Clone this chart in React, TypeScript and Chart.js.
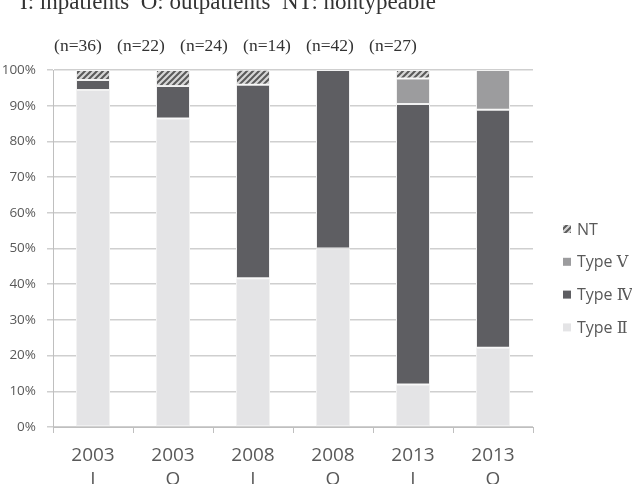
import { useEffect, useRef } from 'react';
import { Chart, registerables } from 'chart.js';

Chart.register(...registerables);

const years = ['2003', '2003', '2008', '2008', '2013', '2013'];
const groups = ['I', 'O', 'I', 'O', 'I', 'O'];
const sampleSizes = [36, 22, 24, 14, 42, 27];

const typeII = [94.4, 86.4, 41.7, 50.0, 11.9, 22.2];
const typeIV = [2.8, 9.1, 54.2, 50.0, 78.6, 66.7];
const typeV = [0, 0, 0, 0, 7.1, 11.1];
const typeNT = [2.8, 4.5, 4.2, 0, 2.4, 0];

const seriesNames = ['Type Ⅱ', 'Type Ⅳ', 'Type Ⅴ', 'NT'];
const titleText = 'I: inpatients  O: outpatients  NT: nontypeable';

const SANS = '"Open Sans", "Noto Sans CJK JP", sans-serif';
const LEGEND_FONT = '"Open Sans", "DejaVu Serif", "Noto Sans CJK JP", sans-serif';
const SERIF = '"Liberation Serif", "DejaVu Serif", serif';

function makeHatch(ctx: CanvasRenderingContext2D): CanvasPattern | string {
  const c = document.createElement('canvas');
  c.width = 6;
  c.height = 6;
  const p = c.getContext('2d');
  if (!p) return '#888';
  p.fillStyle = '#d6d6d6';
  p.fillRect(0, 0, 6, 6);
  p.strokeStyle = '#5a5a5a';
  p.lineWidth = 2;
  p.beginPath();
  p.moveTo(-1, 7);
  p.lineTo(7, -1);
  p.moveTo(-4, 4);
  p.lineTo(4, -4);
  p.moveTo(2, 10);
  p.lineTo(10, 2);
  p.stroke();
  return ctx.createPattern(c, 'repeat') || '#888';
}

export default function App() {
  const ref = useRef<HTMLCanvasElement>(null);

  useEffect(() => {
    const canvas = ref.current;
    if (!canvas) return;
    const ctx = canvas.getContext('2d');
    if (!ctx) return;
    const hatch = makeHatch(ctx);

    const annotations = {
      id: 'annotations',
      afterDraw(chart: any) {
        const c = chart.ctx;
        const area = chart.chartArea;
        c.save();
        // title (cut at top, as in reference)
        c.fillStyle = '#333333';
        c.font = `23px ${SERIF}`;
        c.textAlign = 'left';
        c.textBaseline = 'alphabetic';
        c.fillText(titleText, 20, 9);
        // sample sizes
        c.font = `17.5px ${SERIF}`;
        c.textAlign = 'center';
        c.textBaseline = 'middle';
        sampleSizes.forEach((n, i) => {
          c.fillText(`(n=${n})`, area.left + 25 + i * 63, 46);
        });
        // legend (reversed order)
        const ds = chart.data.datasets;
        c.font = `16px ${LEGEND_FONT}`;
        c.textAlign = 'left';
        for (let k = 0; k < ds.length; k++) {
          const d = ds[ds.length - 1 - k];
          const y = 229 + k * 32.8;
          const x = area.right + 30;
          c.fillStyle = d.backgroundColor;
          c.fillRect(x, y - 4, 8, 8);
          c.fillStyle = '#595959';
          c.fillText(d.label, x + 14, y + 1);
        }
        c.restore();
      },
    };

    const mk = (label: string, data: number[], color: any) => ({
      label,
      data,
      backgroundColor: color,
      borderColor: '#f2f2f2',
      borderWidth: 1,
      borderSkipped: false,
      barPercentage: 0.425,
      categoryPercentage: 1,
    });

    const chart = new Chart(ctx, {
      type: 'bar',
      data: {
        labels: years.map((y, i) => [y, groups[i]]),
        datasets: [
          mk(seriesNames[0], typeII, '#e4e4e6'),
          mk(seriesNames[1], typeIV, '#5e5e62'),
          mk(seriesNames[2], typeV, '#9c9c9e'),
          mk(seriesNames[3], typeNT, hatch),
        ],
      },
      options: {
        responsive: false,
        animation: false,
        devicePixelRatio: 1,
        layout: { padding: { left: 0, top: 70, right: 99, bottom: 0 } },
        plugins: {
          legend: { display: false },
          tooltip: { enabled: false },
          title: { display: false },
        },
        scales: {
          x: {
            stacked: true,
            afterFit(scale: any) {
              scale.height = 484 - 427;
            },
            grid: {
              offset: true,
              drawOnChartArea: false,
              drawTicks: true,
              tickLength: 6,
              color: '#bfbfbf',
            },
            border: { color: '#bfbfbf', width: 1 },
            ticks: {
              color: '#595959',
              font: { family: SANS, size: 19, lineHeight: 1.3 },
              padding: 10,
              maxRotation: 0,
            },
          },
          y: {
            stacked: true,
            min: 0,
            max: 100,
            afterFit(scale: any) {
              scale.width = 53;
            },
            grid: {
              color: '#cfcfcf',
              lineWidth: 1.5,
              drawTicks: true,
              tickLength: 6,
            },
            border: { color: '#bfbfbf', width: 1 },
            ticks: {
              stepSize: 10,
              color: '#595959',
              font: { family: SANS, size: 13.5 },
              padding: 11,
              callback: (v: any) => `${v}%`,
            },
          },
        },
      },
      plugins: [annotations],
    } as any);

    return () => chart.destroy();
  }, []);

  return (
    <div style={{ position: 'fixed', left: 0, top: 0, width: 632, height: 484, background: '#ffffff' }}>
      <canvas ref={ref} width={632} height={484} style={{ display: 'block' }} />
    </div>
  );
}
